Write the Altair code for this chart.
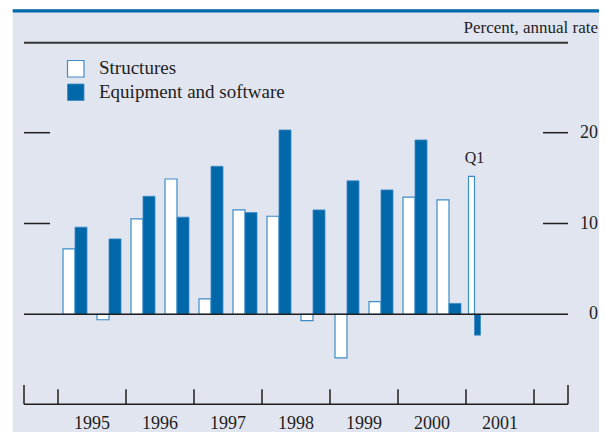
import altair as alt
import pandas as pd

# ---- data ----
periods = ["1995 H1", "1995 H2", "1996 H1", "1996 H2", "1997 H1", "1997 H2",
           "1998 H1", "1998 H2", "1999 H1", "1999 H2", "2000 H1", "2000 H2", "2001 Q1"]
structures = [7.2, -0.6, 10.5, 14.9, 1.7, 11.5, 10.8, -0.7, -4.8, 1.4, 12.9, 12.6, 15.2]
equipment = [9.6, 8.3, 13.0, 10.7, 16.3, 11.2, 20.3, 11.5, 14.7, 13.7, 19.2, 1.2, -2.3]
years = [1995, 1996, 1997, 1998, 1999, 2000, 2001]
value_ticks = [10, 20]
value_labels = [0, 10, 20]
series_names = ["Structures", "Equipment and software"]
unit_label = "Percent, annual rate"
last_note = "Q1"

# ---- styles ----
BG = "#E1E5F0"
BLUE = "#0068A9"
OUTLINE = "#3E8BC6"
INK = "#1e1e1e"
FONT = "Liberation Serif"

W, H = 591, 424
PX_PER_YEAR = 68.0
X0 = 50.0  # chart x of 1995.0
xs = alt.Scale(domain=[1995 - X0 / PX_PER_YEAR, 1995 + (W - X0) / PX_PER_YEAR], nice=False, zero=False)
ZERO_Y, PX_PER_UNIT = 306.3, 9.08
ys = alt.Scale(domain=[(ZERO_Y - H) / PX_PER_UNIT, ZERO_Y / PX_PER_UNIT], nice=False, zero=False)

BAR_FRAC = 12 / 34


def slot(p):
    y, part = p.split()
    y = int(y)
    if part == "H1":
        return y, y + 0.5
    if part == "H2":
        return y + 0.5, y + 1.0
    return y, y + 0.25  # Q1


rows = []
for p, s, e in zip(periods, structures, equipment):
    a, b = slot(p)
    c = (a + b) / 2
    w = (b - a) * BAR_FRAC
    rows.append({"series": series_names[0], "x0": c - w, "x1": c, "v": s, "base": 0})
    rows.append({"series": series_names[1], "x0": c, "x1": c + w, "v": e, "base": 0})
bars = pd.DataFrame(rows)

one = pd.DataFrame({"k": [0]})

bg = alt.Chart(one).mark_rect(color=BG).encode(
    x=alt.value(4.7), x2=alt.value(W), y=alt.value(1.3), y2=alt.value(H))
topline = alt.Chart(one).mark_rect(color=BLUE).encode(
    x=alt.value(4.7), x2=alt.value(W), y=alt.value(1.3), y2=alt.value(4.6))
header_rule = alt.Chart(one).mark_rule(color="#333333", strokeWidth=2).encode(
    x=alt.value(16), x2=alt.value(560), y=alt.value(34.7))
header_text = alt.Chart(pd.DataFrame({"t": [unit_label]})).mark_text(
    align="right", baseline="alphabetic", font=FONT, fontSize=17, color=INK).encode(
    x=alt.value(590), y=alt.value(25), text="t:N")

# legend
leg = pd.DataFrame({"name": series_names, "i": [0, 1]})
leg_sq_s = alt.Chart(leg[leg.i == 0]).mark_rect(
    fill="white", stroke=OUTLINE, strokeWidth=1.2).encode(
    x=alt.value(59.5), x2=alt.value(76), y=alt.value(52.5), y2=alt.value(69))
leg_sq_e = alt.Chart(leg[leg.i == 1]).mark_rect(
    fill=BLUE, stroke=OUTLINE, strokeWidth=0.8).encode(
    x=alt.value(59.5), x2=alt.value(76), y=alt.value(76), y2=alt.value(92.5))
leg_t_s = alt.Chart(leg[leg.i == 0]).mark_text(
    align="left", baseline="alphabetic", font=FONT, fontSize=19, color=INK).encode(
    x=alt.value(91), y=alt.value(65.5), text="name:N")
leg_t_e = alt.Chart(leg[leg.i == 1]).mark_text(
    align="left", baseline="alphabetic", font=FONT, fontSize=19, color=INK).encode(
    x=alt.value(91), y=alt.value(89.5), text="name:N")

# value ticks and labels
vt = pd.DataFrame({"v": value_ticks})
lticks = alt.Chart(vt).mark_rule(color=INK, strokeWidth=1.5).encode(
    y=alt.Y("v:Q", scale=ys, axis=None), x=alt.value(16), x2=alt.value(42))
rticks = alt.Chart(vt).mark_rule(color=INK, strokeWidth=1.5).encode(
    y=alt.Y("v:Q", scale=ys, axis=None), x=alt.value(535), x2=alt.value(560))
vl = pd.DataFrame({"v": value_labels})
rlabels = alt.Chart(vl).mark_text(
    align="right", baseline="middle", font=FONT, fontSize=18, color=INK).encode(
    y=alt.Y("v:Q", scale=ys, axis=None), x=alt.value(590), text="v:Q")

# bars
sbars = alt.Chart(bars[bars.series == series_names[0]]).mark_rect(
    fill="white", stroke=OUTLINE, strokeWidth=1.2).encode(
    x=alt.X("x0:Q", scale=xs, axis=None), x2="x1:Q",
    y=alt.Y("v:Q", scale=ys, axis=None), y2="base:Q")
ebars = alt.Chart(bars[bars.series == series_names[1]]).mark_rect(
    fill=BLUE, stroke=OUTLINE, strokeWidth=0.8).encode(
    x=alt.X("x0:Q", scale=xs, axis=None), x2="x1:Q",
    y=alt.Y("v:Q", scale=ys, axis=None), y2="base:Q")

zero_line = alt.Chart(pd.DataFrame({"v": [0]})).mark_rule(color=INK, strokeWidth=1.5).encode(
    y=alt.Y("v:Q", scale=ys, axis=None), x=alt.value(16), x2=alt.value(560))

# Q1 note above last structures bar
qa, qb = slot(periods[-1])
q1 = alt.Chart(pd.DataFrame({"x": [(qa + qb) / 2], "v": [structures[-1]], "t": [last_note]})).mark_text(
    align="center", baseline="alphabetic", font=FONT, fontSize=16, color=INK, dy=-13).encode(
    x=alt.X("x:Q", scale=xs, axis=None), y=alt.Y("v:Q", scale=ys, axis=None), text="t:N")

# x axis
xbase = alt.Chart(one).mark_rule(color=INK, strokeWidth=1.5).encode(
    x=alt.value(16), x2=alt.value(560), y=alt.value(396.3))
yt = pd.DataFrame({"x": years + [years[-1] + 1]})
yticks = alt.Chart(yt).mark_rule(color=INK, strokeWidth=1.5).encode(
    x=alt.X("x:Q", scale=xs, axis=None), y=alt.value(381.3), y2=alt.value(396.3))
et = pd.DataFrame({"x": [years[0] - 0.5, years[-1] + 1.5]})
eticks = alt.Chart(et).mark_rule(color=INK, strokeWidth=1.5).encode(
    x=alt.X("x:Q", scale=xs, axis=None), y=alt.value(377), y2=alt.value(396.3))
yl = pd.DataFrame({"x": [y + 0.5 for y in years], "t": [str(y) for y in years]})
ylabels = alt.Chart(yl).mark_text(
    align="center", baseline="alphabetic", font=FONT, fontSize=18, color=INK).encode(
    x=alt.X("x:Q", scale=xs, axis=None), y=alt.value(421), text="t:N")

chart = alt.layer(
    bg, topline, header_rule, header_text,
    leg_sq_s, leg_sq_e, leg_t_s, leg_t_e,
    lticks, rticks, rlabels,
    sbars, ebars, zero_line, q1,
    xbase, yticks, eticks, ylabels,
).properties(
    width=W, height=H,
    autosize=alt.AutoSizeParams(type="none"),
    padding=0,
).configure_view(stroke=None)

chart.save("out.html", embed_options={"renderer": "svg", "actions": False})
